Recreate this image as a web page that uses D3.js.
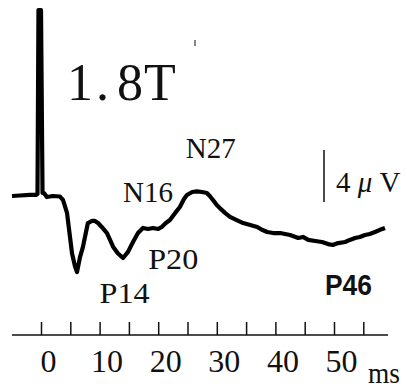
<!DOCTYPE html>
<html><head><meta charset="utf-8">
<script src="https://cdn.jsdelivr.net/npm/d3@7"></script>
<style>
html,body{margin:0;padding:0;background:#fff;}
svg{display:block;}
text{font-family:"Liberation Serif","DejaVu Serif",serif;fill:#111;}
</style></head>
<body>
<script>
// time (ms) and amplitude (µV, negative plotted upward)
const timeMs = [-4.95,-3.6,-1.9,-0.85,-0.6,-0.43,0,0.26,0.5,1.0,2.05,3.24,3.75,4.44,4.95,5.29,5.8,6.14,6.66,7.17,7.68,8.0,8.7,9.2,9.73,10.4,11.26,12.3,13.1,14.0,14.85,15.7,16.55,17.4,18.26,19.1,20.0,20.6,21.3,22.0,22.9,23.7,24.4,24.9,25.8,26.6,27.5,28.3,28.8,29.35,30.0,30.5,31.4,32.25,33.4,34.5,35.7,36.9,37.7,38.6,39.6,40.8,42.5,43.9,44.7,45.6,46.8,47.95,49.0,49.8,50.7,51.9,52.7,53.6,54.4,55.3,56.1,57.0,57.85,58.7];
const amplitudeUV = [0,-0.04,-0.08,-0.08,-0.15,-14.3,-14.3,-0.23,-0.23,0.08,0,0.04,0.3,1.3,3.15,4.4,5.4,5.85,4.7,3.9,2.77,2.08,1.92,1.92,2.08,2.4,2.85,3.9,4.4,4.77,4.3,3.54,2.85,2.46,2.54,2.46,2.54,2.38,2.08,1.85,1.3,0.85,0.23,-0.08,-0.31,-0.35,-0.31,-0.23,0,0.31,0.7,0.92,1.3,1.6,1.85,2.08,2.23,2.38,2.6,2.77,2.85,2.85,3.0,3.23,3.15,3.38,3.46,3.54,3.7,3.77,3.62,3.54,3.38,3.23,3.15,3.0,2.92,2.77,2.6,2.46];
const tickValuesMs = [0,5,10,15,20,25,30,35,40,45,50,55];
const tickLabelsMs = [0,10,20,30,40,50];
const peakNames = ["N16","N27","P14","P20"];
const peakTimes = [14.0,24.7,10.0,18.3];
const peakAmps = [0.45,-2.9,8.2,5.6];
const fieldLabelParts = ["1", ".", "8", "T"];
const scaleBarUV = 4;

const W = 407, H = 388;
const svg = d3.select("body").append("svg").attr("width", W).attr("height", H);

const x = d3.scaleLinear().domain([0, 50]).range([41, 334]);
const y = d3.scaleLinear().domain([-15, 10]).range([1, 326]);
const axisY = 335;

// trace
const pts = timeMs.map((t, i) => [t, amplitudeUV[i]]);
svg.append("path")
  .datum(pts)
  .attr("d", d3.line().x(d => x(d[0])).y(d => y(d[1])))
  .attr("fill", "none").attr("stroke", "#000")
  .attr("stroke-width", 4.2).attr("stroke-linejoin", "round").attr("stroke-linecap", "butt");

// time axis: tick marks
const tickAxis = d3.axisBottom(x).tickValues(tickValuesMs).tickSizeInner(-13).tickSizeOuter(0).tickFormat("");
const gT = svg.append("g").attr("transform", `translate(0,${axisY})`).call(tickAxis);
gT.select(".domain").remove();
gT.selectAll(".tick line").attr("stroke", "#111").attr("stroke-width", 1.5);
svg.append("line").attr("x1", 12).attr("x2", 388).attr("y1", axisY).attr("y2", axisY)
  .attr("stroke", "#111").attr("stroke-width", 1.6);

// time axis: labels
const labelAxis = d3.axisBottom(x).tickValues(tickLabelsMs).tickSize(0).tickPadding(14).tickFormat(d3.format("d"));
const gL = svg.append("g").attr("transform", `translate(7,${axisY})`).call(labelAxis);
gL.select(".domain").remove();
gL.selectAll(".tick text").attr("font-family", "Liberation Serif, DejaVu Serif, serif")
  .attr("font-size", 32).attr("fill", "#111");

svg.append("text").attr("x", 368).attr("y", 383).attr("font-size", 30)
  .attr("textLength", 32).attr("lengthAdjust", "spacingAndGlyphs").text("ms");

// field label with wide (Japanese-style) spacing
const fl = svg.append("text").attr("y", 100).attr("font-size", 52);
const flX = [67, 96, 117, 144];
fieldLabelParts.forEach((c, i) => fl.append("tspan").attr("x", flX[i]).text(c));

// peak labels (serif)
peakNames.forEach((n, i) => {
  svg.append("text").attr("x", x(peakTimes[i])).attr("y", y(peakAmps[i]))
    .attr("font-size", 30).attr("textLength", 50).attr("lengthAdjust", "spacingAndGlyphs").text(n);
});
// P46 bold sans
svg.append("text").attr("x", 325).attr("y", 295)
  .style("font-family", "Liberation Sans, Arial, sans-serif").attr("font-weight", "bold")
  .attr("font-size", 30).attr("textLength", 47).attr("lengthAdjust", "spacingAndGlyphs").text("P46");

// scale bar 4 µV
const barX = 324, barBottom = 202;
const pxPerUV = y(1) - y(0);
svg.append("line").attr("x1", barX).attr("x2", barX)
  .attr("y1", barBottom - scaleBarUV * pxPerUV).attr("y2", barBottom)
  .attr("stroke", "#111").attr("stroke-width", 1.5);
const sb = svg.append("text").attr("x", 336).attr("y", 192).attr("font-size", 29);
sb.append("tspan").text(scaleBarUV + " ");
sb.append("tspan").attr("font-style", "italic").text("μ");
sb.append("tspan").text(" V");

// small speck
svg.append("line").attr("x1", 195).attr("x2", 195).attr("y1", 40).attr("y2", 46)
  .attr("stroke", "#333").attr("stroke-width", 1.2);
</script>
</body></html>
